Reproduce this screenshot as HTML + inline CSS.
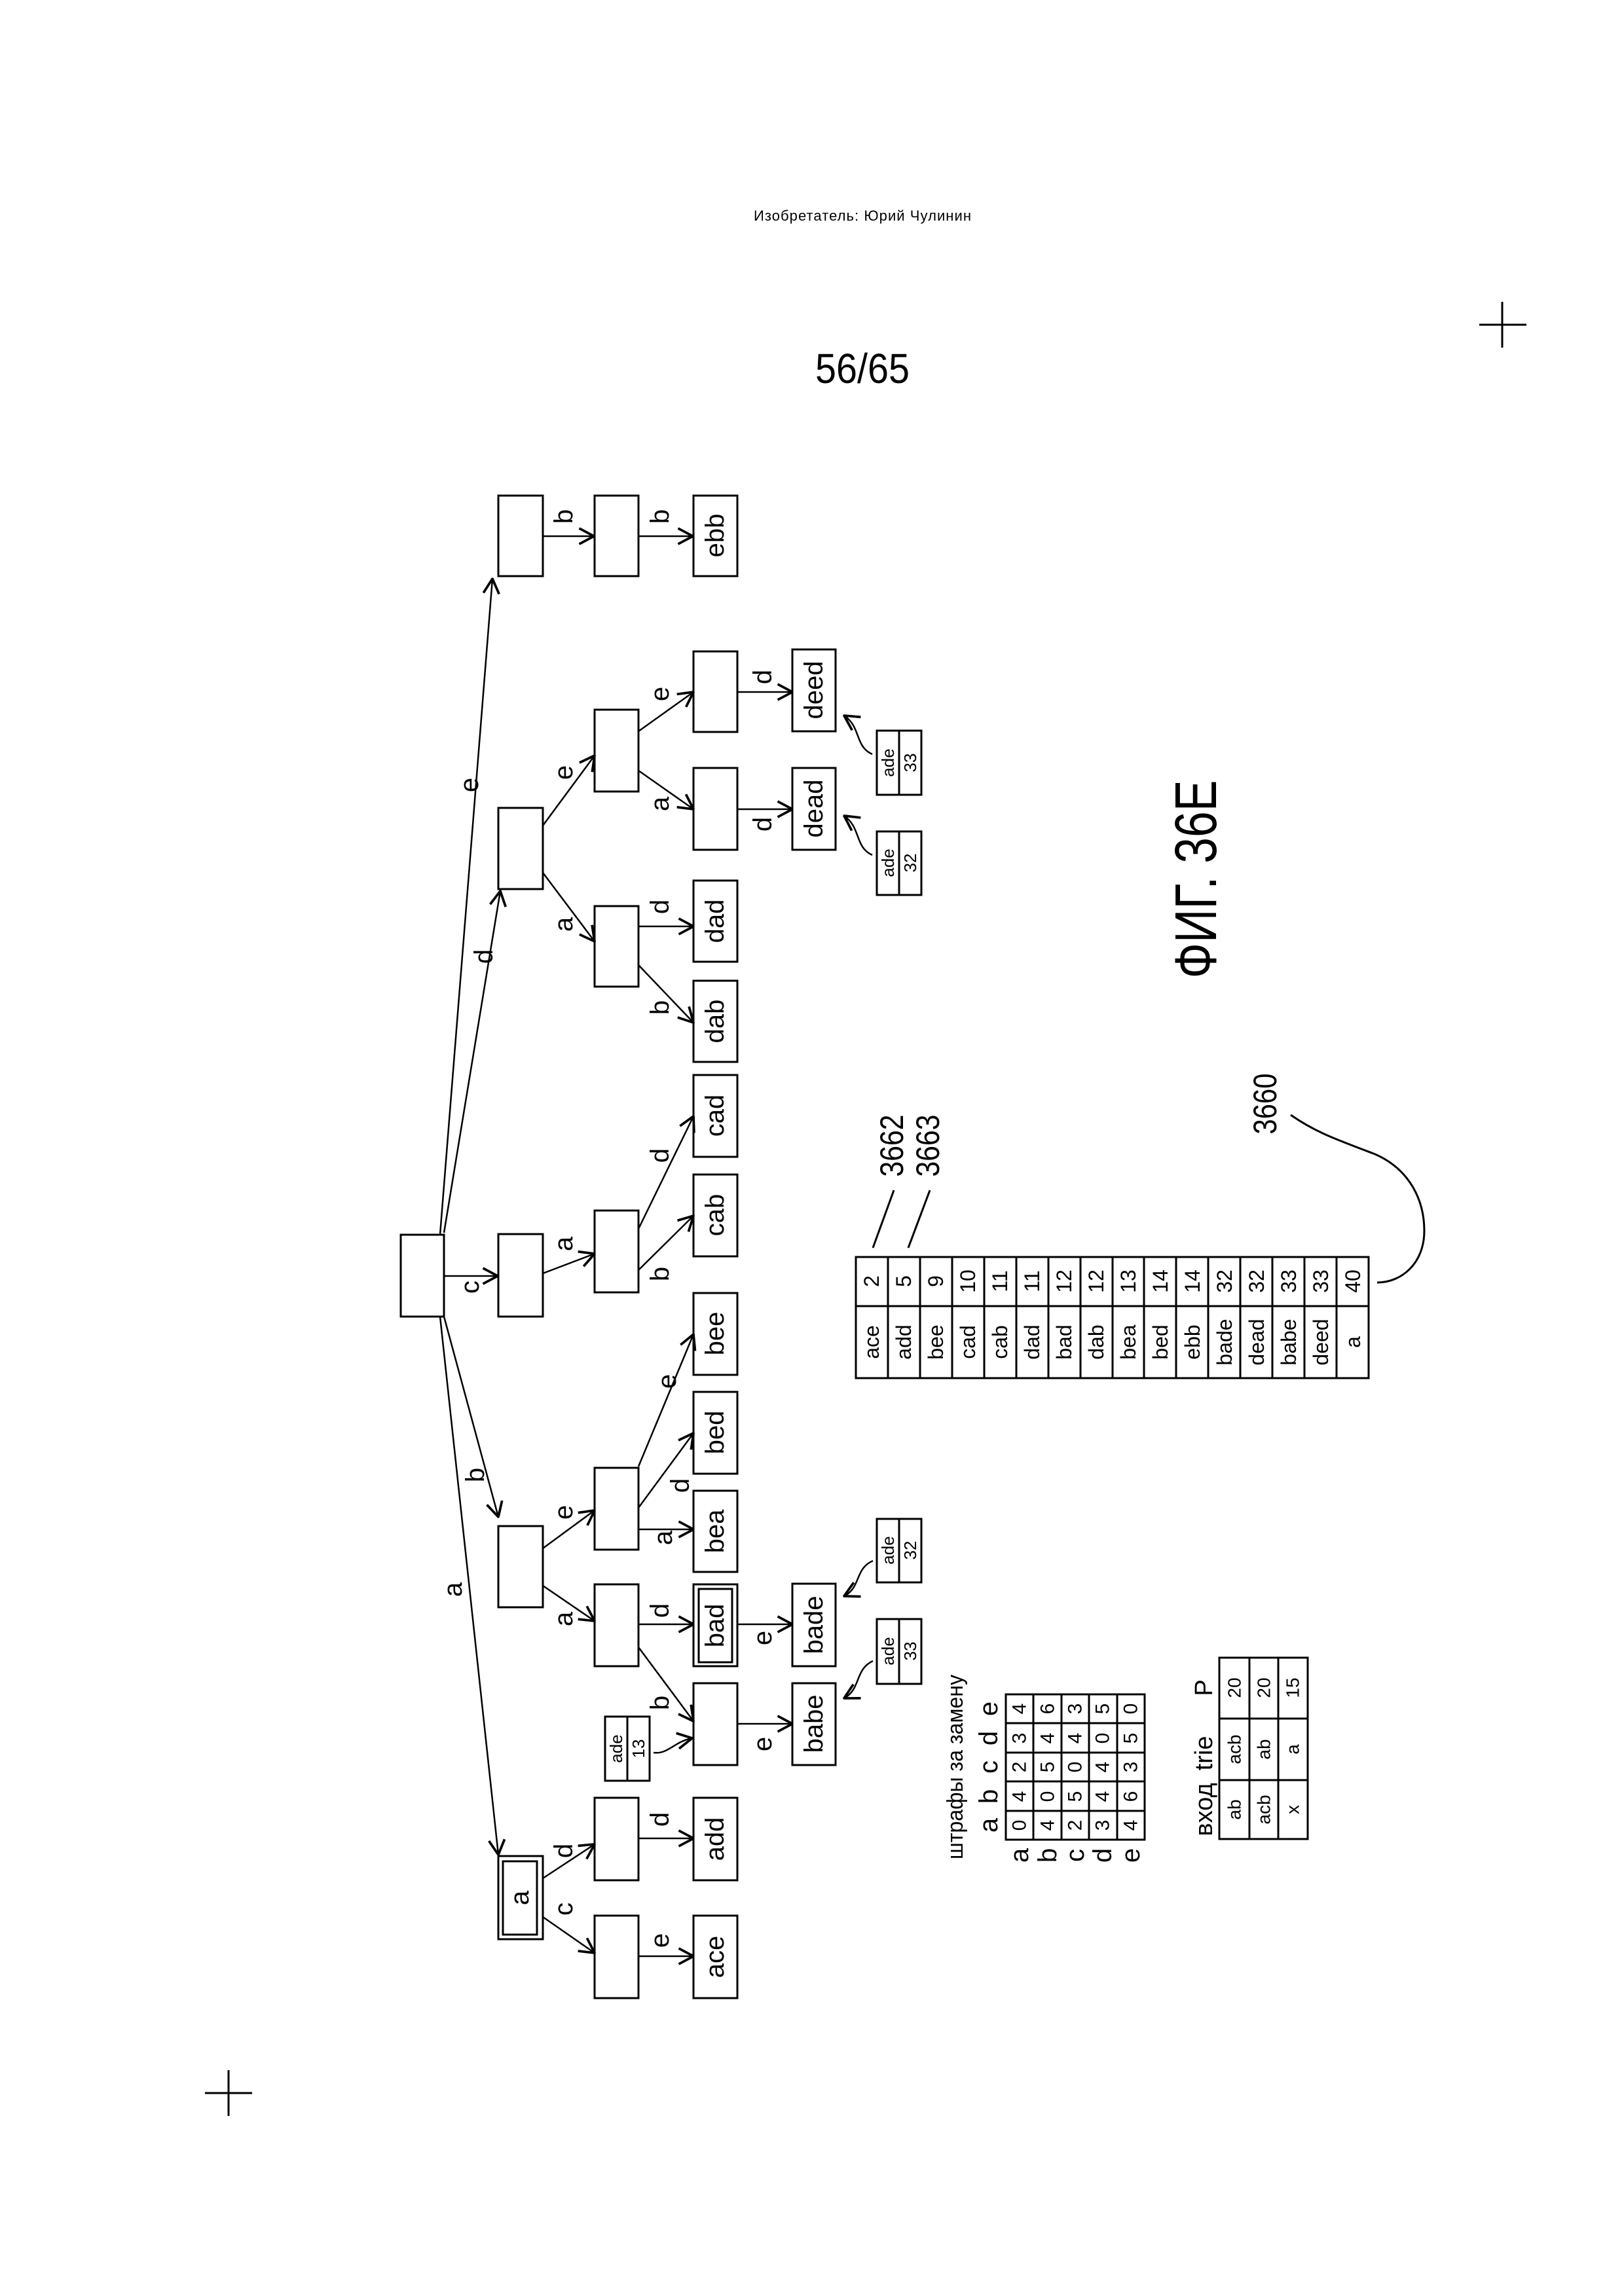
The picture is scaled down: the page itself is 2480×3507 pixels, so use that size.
<!DOCTYPE html>
<html><head><meta charset="utf-8"><style>html,body{margin:0;padding:0;background:#fff}svg{display:block}text{font-family:"Liberation Sans",Arial,sans-serif;fill:#000}</style></head><body>
<svg width="2480" height="3507" viewBox="0 0 2480 3507" xmlns="http://www.w3.org/2000/svg">
<defs><marker id="ar" markerUnits="userSpaceOnUse" markerWidth="30" markerHeight="30" viewBox="0 0 20 20" refX="19" refY="10" orient="auto"><path d="M4,2 L19,10 L4,18" fill="none" stroke="#000" stroke-width="2.5"/></marker></defs>
<rect width="2480" height="3507" fill="#fff"/>
<text x="1317" y="337" font-size="22" text-anchor="middle" textLength="332">Изобретатель: Юрий Чулинин</text>
<text x="1317" y="585" font-size="64" text-anchor="middle" textLength="144" lengthAdjust="spacingAndGlyphs">56/65</text>
<g stroke="#000" stroke-width="3"><line x1="2259" y1="496" x2="2331" y2="496"/><line x1="2294" y1="461" x2="2294" y2="531"/><line x1="313" y1="3197" x2="385" y2="3197"/><line x1="349" y1="3162" x2="349" y2="3232"/></g>
<text transform="translate(1827,1343) rotate(-90)" font-size="90" text-anchor="middle" dominant-baseline="central" textLength="303" lengthAdjust="spacingAndGlyphs">ФИГ. 36Е</text>

<g fill="none" stroke="#000" stroke-width="3">
<rect x="612" y="1886" width="66" height="125"/>
<rect x="761" y="757" width="68" height="123"/><rect x="908" y="757" width="67" height="123"/><rect x="1059" y="757" width="67" height="123"/>
<rect x="761" y="1234" width="68" height="124"/><rect x="908" y="1084" width="67" height="125"/>
<rect x="1059" y="995" width="67" height="123"/><rect x="1210" y="992" width="66" height="125"/>
<rect x="1059" y="1173" width="67" height="125"/><rect x="1210" y="1173" width="66" height="125"/>
<rect x="908" y="1384" width="67" height="123"/><rect x="1059" y="1345" width="67" height="124"/><rect x="1059" y="1498" width="67" height="124"/>
<rect x="761" y="1885" width="68" height="126"/><rect x="908" y="1849" width="67" height="125"/>
<rect x="1059" y="1642" width="67" height="125"/><rect x="1059" y="1794" width="67" height="125"/>
<rect x="1059" y="1975" width="67" height="125"/><rect x="1059" y="2126" width="67" height="125"/><rect x="1059" y="2277" width="67" height="124"/>
<rect x="1059" y="2420" width="67" height="125"/><rect x="1067" y="2427" width="51" height="112"/>
<rect x="1059" y="2571" width="67" height="125"/>
<rect x="1210" y="2419" width="66" height="126"/><rect x="1210" y="2571" width="66" height="125"/>
<rect x="761" y="2331" width="68" height="124"/><rect x="908" y="2242" width="67" height="125"/><rect x="908" y="2420" width="67" height="125"/>
<rect x="761" y="2835" width="68" height="127"/><rect x="768" y="2843" width="52" height="112"/>
<rect x="908" y="2746" width="67" height="126"/><rect x="908" y="2926" width="67" height="126"/>
<rect x="1059" y="2746" width="67" height="126"/><rect x="1059" y="2926" width="67" height="126"/>
</g>

<g fill="none" stroke="#000" stroke-width="2.5" marker-end="url(#ar)">
<line x1="672" y1="1886" x2="752" y2="884"/><line x1="678" y1="1883" x2="764" y2="1361"/>
<line x1="678" y1="1949" x2="760" y2="1949"/><line x1="678" y1="2011" x2="761" y2="2317"/>
<line x1="672" y1="2011" x2="761" y2="2833"/>
<line x1="829" y1="819" x2="907" y2="819"/><line x1="975" y1="819" x2="1058" y2="819"/>
<line x1="829" y1="1261" x2="908" y2="1154"/><line x1="829" y1="1333" x2="908" y2="1438"/>
<line x1="975" y1="1117" x2="1059" y2="1057"/><line x1="975" y1="1177" x2="1059" y2="1236"/>
<line x1="1126" y1="1057" x2="1210" y2="1057"/><line x1="1126" y1="1236" x2="1210" y2="1236"/>
<line x1="975" y1="1415" x2="1059" y2="1415"/><line x1="975" y1="1474" x2="1059" y2="1562"/>
<line x1="829" y1="1945" x2="908" y2="1915"/><line x1="975" y1="1877" x2="1059" y2="1705"/><line x1="975" y1="1940" x2="1059" y2="1857"/>
<line x1="829" y1="2365" x2="908" y2="2307"/><line x1="829" y1="2422" x2="908" y2="2476"/>
<line x1="975" y1="2240" x2="1059" y2="2038"/><line x1="975" y1="2303" x2="1059" y2="2189"/><line x1="975" y1="2336" x2="1059" y2="2336"/>
<line x1="975" y1="2481" x2="1059" y2="2481"/><line x1="975" y1="2516" x2="1059" y2="2629"/>
<line x1="1126" y1="2481" x2="1210" y2="2481"/><line x1="1126" y1="2633" x2="1210" y2="2633"/>
<line x1="829" y1="2869" x2="908" y2="2817"/><line x1="829" y1="2928" x2="908" y2="2983"/>
<line x1="975" y1="2808" x2="1059" y2="2808"/><line x1="975" y1="2988" x2="1059" y2="2988"/>
<path d="M1332,1152 C1305,1140 1315,1110 1289,1093"/><path d="M1332,1306 C1305,1294 1315,1264 1289,1246"/>
<path d="M1333,2384 C1305,2396 1315,2425 1289,2438"/><path d="M1333,2537 C1305,2550 1315,2580 1289,2594"/>
<path d="M998,2677 C1020,2680 1030,2660 1057,2655"/>
</g>

<g font-size="40" text-anchor="middle" dominant-baseline="central">
<text transform="translate(717,1199) rotate(-90)">e</text><text transform="translate(739,1461) rotate(-90)">d</text>
<text transform="translate(718,1966) rotate(-90)">c</text><text transform="translate(726,2253) rotate(-90)">b</text>
<text transform="translate(692,2428) rotate(-90)">a</text>
<text transform="translate(861,789) rotate(-90)">b</text><text transform="translate(1008,789) rotate(-90)">b</text>
<text transform="translate(861,1180) rotate(-90)">e</text><text transform="translate(861,1412) rotate(-90)">a</text>
<text transform="translate(1008,1060) rotate(-90)">e</text><text transform="translate(1008,1228) rotate(-90)">a</text>
<text transform="translate(1165,1034) rotate(-90)">d</text><text transform="translate(1165,1259) rotate(-90)">d</text>
<text transform="translate(1008,1385) rotate(-90)">d</text><text transform="translate(1008,1539) rotate(-90)">b</text>
<text transform="translate(861,1900) rotate(-90)">a</text><text transform="translate(1008,1765) rotate(-90)">d</text>
<text transform="translate(1008,1946) rotate(-90)">b</text>
<text transform="translate(861,2310) rotate(-90)">e</text><text transform="translate(861,2473) rotate(-90)">a</text>
<text transform="translate(1019,2110) rotate(-90)">e</text><text transform="translate(1039,2269) rotate(-90)">d</text>
<text transform="translate(1013,2349) rotate(-90)">a</text>
<text transform="translate(1008,2460) rotate(-90)">d</text><text transform="translate(1008,2601) rotate(-90)">b</text>
<text transform="translate(1165,2502) rotate(-90)">e</text><text transform="translate(1165,2664) rotate(-90)">e</text>
<text transform="translate(861,2827) rotate(-90)">d</text><text transform="translate(861,2916) rotate(-90)">c</text>
<text transform="translate(1008,2779) rotate(-90)">d</text><text transform="translate(1008,2964) rotate(-90)">e</text>
<text transform="translate(1092,818) rotate(-90)">ebb</text>
<text transform="translate(1243,1054) rotate(-90)">deed</text><text transform="translate(1243,1235) rotate(-90)">dead</text>
<text transform="translate(1092,1407) rotate(-90)">dad</text><text transform="translate(1092,1560) rotate(-90)">dab</text>
<text transform="translate(1092,1704) rotate(-90)">cad</text><text transform="translate(1092,1856) rotate(-90)">cab</text>
<text transform="translate(1092,2037) rotate(-90)">bee</text><text transform="translate(1092,2188) rotate(-90)">bed</text>
<text transform="translate(1092,2339) rotate(-90)">bea</text><text transform="translate(1092,2483) rotate(-90)">bad</text>
<text transform="translate(1243,2482) rotate(-90)">bade</text><text transform="translate(1243,2633) rotate(-90)">babe</text>
<text transform="translate(1092,2809) rotate(-90)">add</text><text transform="translate(1092,2989) rotate(-90)">ace</text>
<text transform="translate(794,2899) rotate(-90)">a</text>
</g>

<g fill="none" stroke="#000" stroke-width="3">
<rect x="1339" y="1116" width="68" height="98"/><line x1="1373" y1="1116" x2="1373" y2="1214"/>
<rect x="1339" y="1270" width="68" height="97"/><line x1="1373" y1="1270" x2="1373" y2="1367"/>
<rect x="1339" y="2320" width="68" height="97"/><line x1="1373" y1="2320" x2="1373" y2="2417"/>
<rect x="1339" y="2473" width="68" height="99"/><line x1="1373" y1="2473" x2="1373" y2="2572"/>
<rect x="924" y="2622" width="68" height="98"/><line x1="958" y1="2622" x2="958" y2="2720"/>
</g>
<g font-size="26" text-anchor="middle" dominant-baseline="central">
<text transform="translate(1356,1165) rotate(-90)">ade</text><text transform="translate(1390,1165) rotate(-90)">33</text>
<text transform="translate(1356,1318) rotate(-90)">ade</text><text transform="translate(1390,1318) rotate(-90)">32</text>
<text transform="translate(1356,2368) rotate(-90)">ade</text><text transform="translate(1390,2368) rotate(-90)">32</text>
<text transform="translate(1356,2522) rotate(-90)">ade</text><text transform="translate(1390,2522) rotate(-90)">33</text>
<text transform="translate(941,2671) rotate(-90)">ade</text><text transform="translate(975,2671) rotate(-90)">13</text>
</g>

<g fill="none" stroke="#000" stroke-width="3">
<rect x="1307" y="1920" width="783" height="185"/><line x1="1307" y1="1995" x2="2090" y2="1995"/>
<line x1="1356" y1="1920" x2="1356" y2="2105"/><line x1="1405" y1="1920" x2="1405" y2="2105"/><line x1="1454" y1="1920" x2="1454" y2="2105"/><line x1="1503" y1="1920" x2="1503" y2="2105"/><line x1="1552" y1="1920" x2="1552" y2="2105"/><line x1="1601" y1="1920" x2="1601" y2="2105"/><line x1="1650" y1="1920" x2="1650" y2="2105"/><line x1="1699" y1="1920" x2="1699" y2="2105"/><line x1="1747" y1="1920" x2="1747" y2="2105"/><line x1="1796" y1="1920" x2="1796" y2="2105"/><line x1="1845" y1="1920" x2="1845" y2="2105"/><line x1="1894" y1="1920" x2="1894" y2="2105"/><line x1="1943" y1="1920" x2="1943" y2="2105"/><line x1="1992" y1="1920" x2="1992" y2="2105"/><line x1="2041" y1="1920" x2="2041" y2="2105"/>
<line x1="1365" y1="1818" x2="1333" y2="1906"/><line x1="1420" y1="1818" x2="1387" y2="1906"/>
<path d="M1971,1703 C2010,1730 2040,1740 2100,1763 C2150,1785 2175,1830 2175,1880 C2175,1930 2140,1959 2103,1959"/>
</g>
<g font-size="32" text-anchor="middle" dominant-baseline="central">
<text transform="translate(1331,1957) rotate(-90)">2</text><text transform="translate(1331,2050) rotate(-90)">ace</text>
<text transform="translate(1380,1957) rotate(-90)">5</text><text transform="translate(1380,2050) rotate(-90)">add</text>
<text transform="translate(1429,1957) rotate(-90)">9</text><text transform="translate(1429,2050) rotate(-90)">bee</text>
<text transform="translate(1478,1957) rotate(-90)">10</text><text transform="translate(1478,2050) rotate(-90)">cad</text>
<text transform="translate(1527,1957) rotate(-90)">11</text><text transform="translate(1527,2050) rotate(-90)">cab</text>
<text transform="translate(1576,1957) rotate(-90)">11</text><text transform="translate(1576,2050) rotate(-90)">dad</text>
<text transform="translate(1625,1957) rotate(-90)">12</text><text transform="translate(1625,2050) rotate(-90)">bad</text>
<text transform="translate(1674,1957) rotate(-90)">12</text><text transform="translate(1674,2050) rotate(-90)">dab</text>
<text transform="translate(1723,1957) rotate(-90)">13</text><text transform="translate(1723,2050) rotate(-90)">bea</text>
<text transform="translate(1772,1957) rotate(-90)">14</text><text transform="translate(1772,2050) rotate(-90)">bed</text>
<text transform="translate(1821,1957) rotate(-90)">14</text><text transform="translate(1821,2050) rotate(-90)">ebb</text>
<text transform="translate(1870,1957) rotate(-90)">32</text><text transform="translate(1870,2050) rotate(-90)">bade</text>
<text transform="translate(1919,1957) rotate(-90)">32</text><text transform="translate(1919,2050) rotate(-90)">dead</text>
<text transform="translate(1968,1957) rotate(-90)">33</text><text transform="translate(1968,2050) rotate(-90)">babe</text>
<text transform="translate(2017,1957) rotate(-90)">33</text><text transform="translate(2017,2050) rotate(-90)">deed</text>
<text transform="translate(2066,1957) rotate(-90)">40</text><text transform="translate(2066,2050) rotate(-90)">a</text>
</g>
<g font-size="50" text-anchor="middle" dominant-baseline="central">
<text transform="translate(1362,1750) rotate(-90)" textLength="95" lengthAdjust="spacingAndGlyphs">3662</text>
<text transform="translate(1417,1750) rotate(-90)" textLength="95" lengthAdjust="spacingAndGlyphs">3663</text>
<text transform="translate(1932,1686) rotate(-90)" textLength="93" lengthAdjust="spacingAndGlyphs">3660</text>
</g>

<text transform="translate(1459,2699) rotate(-90)" font-size="34" text-anchor="middle" dominant-baseline="central" textLength="282" lengthAdjust="spacingAndGlyphs">штрафы за замену</text>
<g fill="none" stroke="#000" stroke-width="3">
<rect x="1536" y="2588" width="212" height="222"/>
<line x1="1578" y1="2588" x2="1578" y2="2810"/><line x1="1621" y1="2588" x2="1621" y2="2810"/><line x1="1663" y1="2588" x2="1663" y2="2810"/><line x1="1706" y1="2588" x2="1706" y2="2810"/>
<line x1="1536" y1="2632" x2="1748" y2="2632"/><line x1="1536" y1="2677" x2="1748" y2="2677"/><line x1="1536" y1="2721" x2="1748" y2="2721"/><line x1="1536" y1="2766" x2="1748" y2="2766"/>
</g>
<g font-size="40" text-anchor="middle" dominant-baseline="central">
<text transform="translate(1510,2788) rotate(-90)">a</text><text transform="translate(1510,2744) rotate(-90)">b</text><text transform="translate(1510,2699) rotate(-90)">c</text><text transform="translate(1510,2655) rotate(-90)">d</text><text transform="translate(1510,2610) rotate(-90)">e</text>
<text transform="translate(1557,2834) rotate(-90)">a</text><text transform="translate(1600,2834) rotate(-90)">b</text><text transform="translate(1642,2834) rotate(-90)">c</text><text transform="translate(1684,2834) rotate(-90)">d</text><text transform="translate(1727,2834) rotate(-90)">e</text>
</g>
<g font-size="30" text-anchor="middle" dominant-baseline="central">
<text transform="translate(1557,2788) rotate(-90)">0</text><text transform="translate(1557,2744) rotate(-90)">4</text><text transform="translate(1557,2699) rotate(-90)">2</text><text transform="translate(1557,2655) rotate(-90)">3</text><text transform="translate(1557,2610) rotate(-90)">4</text>
<text transform="translate(1600,2788) rotate(-90)">4</text><text transform="translate(1600,2744) rotate(-90)">0</text><text transform="translate(1600,2699) rotate(-90)">5</text><text transform="translate(1600,2655) rotate(-90)">4</text><text transform="translate(1600,2610) rotate(-90)">6</text>
<text transform="translate(1642,2788) rotate(-90)">2</text><text transform="translate(1642,2744) rotate(-90)">5</text><text transform="translate(1642,2699) rotate(-90)">0</text><text transform="translate(1642,2655) rotate(-90)">4</text><text transform="translate(1642,2610) rotate(-90)">3</text>
<text transform="translate(1684,2788) rotate(-90)">3</text><text transform="translate(1684,2744) rotate(-90)">4</text><text transform="translate(1684,2699) rotate(-90)">4</text><text transform="translate(1684,2655) rotate(-90)">0</text><text transform="translate(1684,2610) rotate(-90)">5</text>
<text transform="translate(1727,2788) rotate(-90)">4</text><text transform="translate(1727,2744) rotate(-90)">6</text><text transform="translate(1727,2699) rotate(-90)">3</text><text transform="translate(1727,2655) rotate(-90)">5</text><text transform="translate(1727,2610) rotate(-90)">0</text>
</g>

<g font-size="38" text-anchor="middle" dominant-baseline="central">
<text transform="translate(1839,2764) rotate(-90)">вход</text><text transform="translate(1839,2678) rotate(-90)">trie</text><text transform="translate(1839,2578) rotate(-90)">P</text>
</g>
<g fill="none" stroke="#000" stroke-width="3">
<rect x="1862" y="2532" width="135" height="277"/>
<line x1="1908" y1="2532" x2="1908" y2="2809"/><line x1="1952" y1="2532" x2="1952" y2="2809"/>
<line x1="1862" y1="2625" x2="1997" y2="2625"/><line x1="1862" y1="2719" x2="1997" y2="2719"/>
</g>
<g font-size="28" text-anchor="middle" dominant-baseline="central">
<text transform="translate(1885,2578) rotate(-90)">20</text><text transform="translate(1930,2578) rotate(-90)">20</text><text transform="translate(1974,2578) rotate(-90)">15</text>
<text transform="translate(1885,2672) rotate(-90)">acb</text><text transform="translate(1930,2672) rotate(-90)">ab</text><text transform="translate(1974,2672) rotate(-90)">a</text>
<text transform="translate(1885,2764) rotate(-90)">ab</text><text transform="translate(1930,2764) rotate(-90)">acb</text><text transform="translate(1974,2764) rotate(-90)">x</text>
</g>
</svg>
</body></html>
